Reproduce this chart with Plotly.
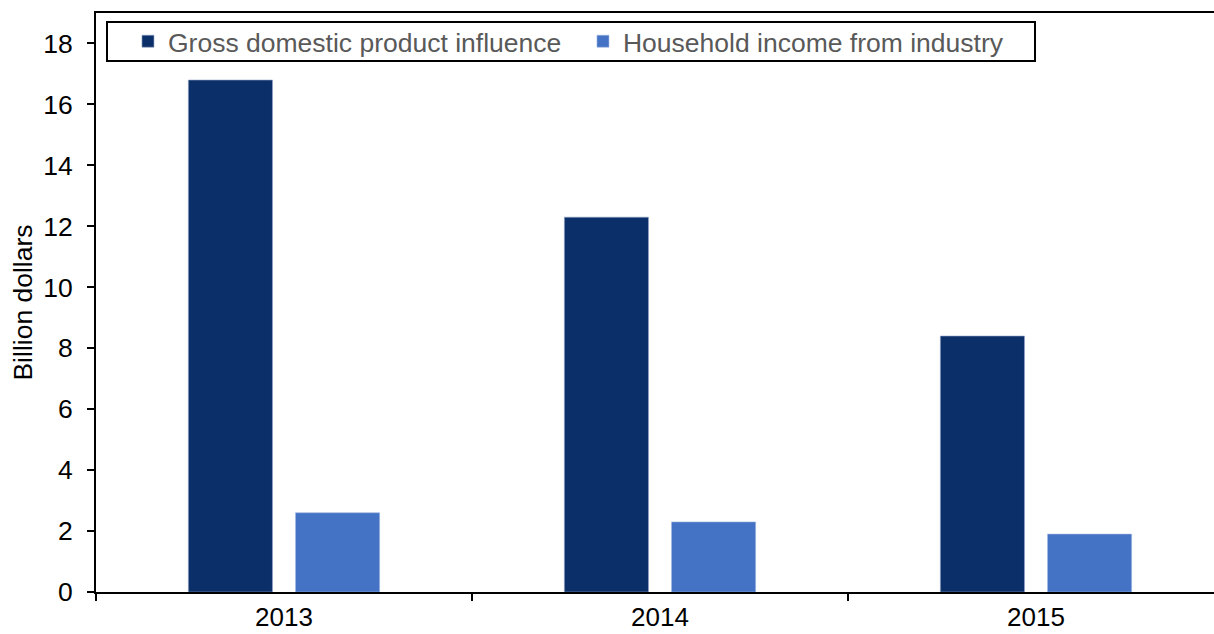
import plotly.graph_objects as go

years = ["2013", "2014", "2015"]
gdp_influence = [16.8, 12.3, 8.4]
household_income = [2.6, 2.3, 1.9]
y_ticks = [0, 2, 4, 6, 8, 10, 12, 14, 16, 18]

FONT = "Arial, Liberation Sans, sans-serif"
FS = 26.5

fig = go.Figure()
fig.add_trace(go.Bar(
    x=years, y=gdp_influence, name="Gross domestic product influence",
    marker=dict(color="#0b2f69", line=dict(color="#8ea3c4", width=0.6)),
))
fig.add_trace(go.Bar(
    x=years, y=household_income, name="Household income from industry",
    marker=dict(color="#4472c4", line=dict(color="#9fb6e0", width=0.6)),
))

fig.update_layout(
    width=1214, height=634,
    margin=dict(l=96, r=0, t=13, b=42),
    paper_bgcolor="white", plot_bgcolor="white",
    barmode="group", bargap=0.43, bargroupgap=0.215,
    font=dict(family=FONT, size=FS, color="black"),
    legend=dict(
        orientation="h", x=0.0286, y=0.9508, xanchor="left", yanchor="middle",
        borderwidth=0, bgcolor="rgba(0,0,0,0)",
        entrywidthmode="pixels", entrywidth=410,
        font=dict(family=FONT, size=FS, color="#595959"),
        itemclick=False,
    ),
    showlegend=True,
    shapes=[dict(
        type="rect", xref="paper", yref="paper",
        x0=0.00984, x1=0.8399, y0=0.9171, y1=0.9845,
        line=dict(color="black", width=2), fillcolor="rgba(0,0,0,0)", layer="above",
    )],
)
fig.update_xaxes(
    type="category", range=[-0.5, 2.4734], automargin=False,
    showline=True, linecolor="black", linewidth=2, mirror=True,
    ticks="outside", tickson="boundaries", ticklen=7, tickwidth=1.5, tickcolor="black",
    ticklabelstandoff=1,
    showgrid=False, tickfont=dict(size=26, color="black"),
)
fig.update_yaxes(
    range=[0, 19], tickvals=y_ticks, automargin=False,
    showline=True, linecolor="black", linewidth=2,
    ticks="outside", ticklen=7, tickwidth=1.5, tickcolor="black",
    ticklabelstandoff=9,
    showgrid=False, zeroline=False,
    tickfont=dict(size=FS, color="black"),
    title=dict(text="Billion dollars", font=dict(size=FS, color="black"), standoff=3),
)

fig.write_html(
    "out.html",
    config={"displayModeBar": False},
    post_script="document.body.style.margin='0';document.body.style.overflow='hidden';",
)
